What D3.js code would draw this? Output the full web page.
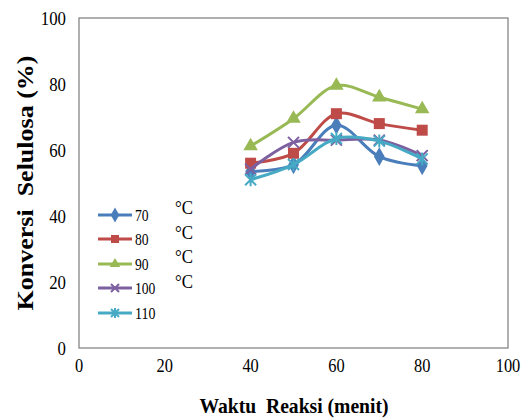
<!DOCTYPE html>
<html>
<head>
<meta charset="utf-8">
<script src="https://d3js.org/d3.v7.min.js"></script>
<style>
	body { margin: 0; background: #fff; }
</style>
</head>
<body>
<div id="chart"></div>
<script>
var waktu = [40, 50, 60, 70, 80];
var suhu = ["70", "80", "90", "100", "110"];
var konversi70 = [53.5, 55.5, 67.5, 58, 55.2];
var konversi80 = [56, 59, 71, 68, 66];
var konversi90 = [61.2, 69.5, 79.5, 76, 72.4];
var konversi100 = [54.2, 62.3, 63, 63, 58.3];
var konversi110 = [51, 55.6, 63.5, 62.7, 57.3];
var xTicks = [0, 20, 40, 60, 80, 100];
var yTicks = [0, 20, 40, 60, 80, 100];

var colors = ["#4a7ebb", "#be4b48", "#98b954", "#7d60a0", "#46aac5"];
var shapes = [d3.symbolDiamond, d3.symbolSquare, d3.symbolTriangle, "x", "star"];
var series = [konversi70, konversi80, konversi90, konversi100, konversi110];
var serif = "Liberation Serif";

var width = 526, height = 418;
var svg = d3.select("#chart").append("svg")
	.attr("width", width)
	.attr("height", height)
	.style("font-family", serif);

var x = d3.scaleLinear().domain([0, 100]).range([79, 508]);
var y = d3.scaleLinear().domain([0, 100]).range([348, 18]);

// plot frame
svg.append("rect")
	.attr("x", x(0)).attr("y", y(100))
	.attr("width", x(100) - x(0)).attr("height", y(0) - y(100))
	.attr("fill", "none").attr("stroke", "#868686").attr("stroke-width", 1.3);

// narrow text, like the squeezed original
function label(sel, txt, size, perChar) {
	return sel.append("text")
		.style("font-family", serif)
		.style("font-size", size + "px")
		.attr("textLength", String(txt).length * perChar)
		.attr("lengthAdjust", "spacingAndGlyphs")
		.text(txt);
}

yTicks.forEach(function(d) {
	label(svg, d, 19, 8.4)
		.attr("x", 66).attr("y", y(d) + 7)
		.attr("text-anchor", "end");
});

xTicks.forEach(function(d) {
	label(svg, d, 19, 8.2)
		.attr("x", x(d)).attr("y", 372)
		.attr("text-anchor", "middle");
});

// axis titles
svg.append("text")
	.style("font-family", serif)
	.style("font-size", "22px").style("font-weight", "bold")
	.style("white-space", "pre")
	.attr("x", 294).attr("y", 413)
	.attr("text-anchor", "middle")
	.attr("textLength", 189).attr("lengthAdjust", "spacingAndGlyphs")
	.text("Waktu  Reaksi (menit)");

svg.append("text")
	.style("font-family", serif)
	.style("font-size", "24px").style("font-weight", "bold")
	.style("white-space", "pre")
	.attr("transform", "translate(33,183) rotate(-90)")
	.attr("text-anchor", "middle")
	.attr("textLength", 255).attr("lengthAdjust", "spacingAndGlyphs")
	.text("Konversi  Selulosa (%)");

var line = d3.line()
	.x(function(d, i) { return x(waktu[i]); })
	.y(function(d) { return y(d); })
	.curve(d3.curveCatmullRom.alpha(0.5));

function drawMarker(g, kind, color, size) {
	var s = size * 0.5;
	if (kind === "x") {
		g.append("path")
			.attr("d", "M" + (-s) + "," + (-s) + "L" + s + "," + s + "M" + (-s) + "," + s + "L" + s + "," + (-s))
			.attr("stroke", color).attr("stroke-width", 2).attr("fill", "none");
	} else if (kind === "star") {
		g.append("path")
			.attr("d", "M" + (-s) + "," + (-s) + "L" + s + "," + s + "M" + (-s) + "," + s + "L" + s + "," + (-s) + "M0," + (-s - 1) + "L0," + (s + 1))
			.attr("stroke", color).attr("stroke-width", 2).attr("fill", "none");
	} else {
		g.append("path")
			.attr("d", d3.symbol().type(kind).size(size * size * (kind === d3.symbolTriangle ? 0.75 : 1))())
			.attr("fill", color);
	}
}

series.forEach(function(vals, k) {
	svg.append("path")
		.datum(vals)
		.attr("d", line)
		.attr("fill", "none")
		.attr("stroke", colors[k])
		.attr("stroke-width", 3);
	vals.forEach(function(v, i) {
		var g = svg.append("g").attr("transform", "translate(" + x(waktu[i]) + "," + y(v) + ")");
		drawMarker(g, shapes[k], colors[k], k === 0 ? 10 : 11);
	});
});

// legend
var legendY = [215, 239, 264, 288, 313];
suhu.forEach(function(s, k) {
	svg.append("line")
		.attr("x1", 98).attr("x2", 132)
		.attr("y1", legendY[k]).attr("y2", legendY[k])
		.attr("stroke", colors[k]).attr("stroke-width", 3);
	var g = svg.append("g").attr("transform", "translate(115," + legendY[k] + ")");
	drawMarker(g, shapes[k], colors[k], 8);
	label(svg, s, 16, 6.8)
		.attr("x", 135).attr("y", legendY[k] + 6);
});

// degree labels
[214, 239, 263, 288].forEach(function(yy) {
	svg.append("text")
		.style("font-family", serif)
		.style("font-size", "18px")
		.attr("x", 175).attr("y", yy)
		.attr("textLength", 18).attr("lengthAdjust", "spacingAndGlyphs")
		.text("\u00B0C");
});
</script>
</body>
</html>
